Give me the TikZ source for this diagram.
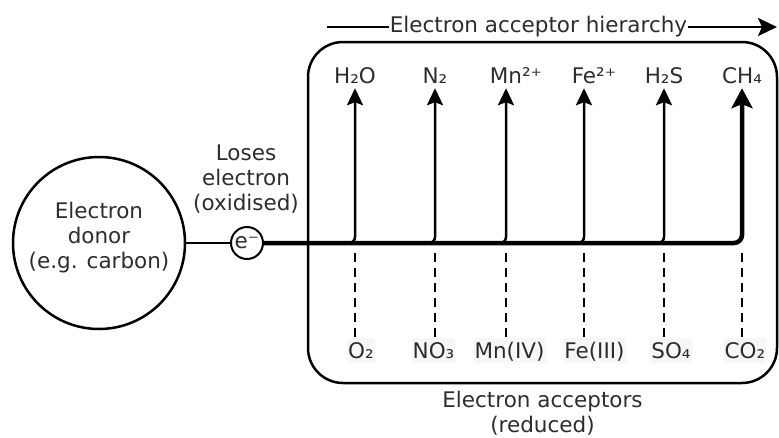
\documentclass[tikz,border=0pt]{standalone}
\usepackage{fontspec}
\setmainfont{DejaVu Sans}
\usetikzlibrary{arrows.meta,positioning}
\definecolor{txtgray}{RGB}{45,45,45}
\definecolor{labelbg}{RGB}{246,247,249}

\tikzset{
	every node/.style={text=txtgray, font=\fontsize{21.5}{25}\selectfont},
	prod/.style={anchor=base, inner xsep=0pt, inner ysep=5pt, text depth=0pt},
	reac/.style={anchor=base, fill=labelbg, inner xsep=1pt, inner ysep=5pt, text height=15.5pt, text depth=0pt},
	branch/.style={line width=2.5pt, rounded corners=6pt, -{Stealth[length=17pt,width=16pt,inset=3pt]}},
	mainline/.style={line width=4.5pt, rounded corners=8pt, -{Stealth[length=20pt,width=21pt,inset=4pt]}},
	link/.style={line width=2.5pt, dash pattern=on 9pt off 6pt}
}

\begin{document}
\begin{tikzpicture}[x=1pt,y=-1pt]
		\useasboundingbox (0,0) rectangle (779,437);
		
		% donor side
		\node[circle, draw=black, line width=2.5pt, minimum size=172pt, inner sep=0pt] (donor) at (99,243) {};
		\node[align=center] (donortxt) at (99,238) {Electron\\donor\\(e.g. carbon)};
		\node[circle, draw=black, line width=2pt, minimum size=32pt, inner sep=0pt] (elec) at (247,243) {e⁻};
		\node[align=center] (loses) at (246,179) {Loses\\electron\\(oxidised)};
		
		% acceptor box
		\node[draw=black, line width=2.5pt, rounded corners=35pt, minimum width=469pt, minimum height=341pt] (box) at (542.5,212.5) {};
		\node[align=center, below=3pt of box] (accept) {Electron acceptors\\(reduced)};
		
		% hierarchy arrow
		\coordinate (hstart) at (327,27);
		\coordinate (hend) at (777,27);
		\draw[line width=2.5pt, -{Stealth[length=19pt,width=18pt,inset=4pt]}] (hstart) -- (hend);
		\node[fill=white, inner xsep=1pt, inner ysep=0pt] (hier) at (538.5,27) {Electron acceptor hierarchy};
		
		% reduced products
		\node[prod] (h2o) at (355,83) {H₂O};
		\node[prod] (n2) at (435,83) {N₂};
		\node[prod] (mn) at (506,83) {Mn\rlap{²⁺}};
		\node[prod] (fe) at (584,83) {Fe\rlap{²⁺}};
		\node[prod] (h2s) at (664,83) {H₂S};
		\node[prod] (ch4) at (742,83) {CH₄};
		
		% acceptors
		\node[reac] (o2) at (361,358) {O₂};
		\node[reac] (no3) at (433.5,358) {NO₃};
		\node[reac] (mniv) at (509.5,358) {Mn(IV)};
		\node[reac] (feiii) at (594.5,358) {Fe(III)};
		\node[reac] (so4) at (671,358) {SO₄};
		\node[reac] (co2) at (745,358) {CO₂};
		\coordinate (gap) at (0,253);
		
		
		\draw[line width=2.5pt] (donor) -- (elec);
		\draw[mainline] (elec) -| (ch4.south);
		\draw[branch] ([xshift=-10pt]h2o.south |- elec) -| (h2o.south);
		\draw[branch] ([xshift=-10pt]n2.south |- elec) -| (n2.south);
		\draw[branch] ([xshift=-10pt]mn.south |- elec) -| (mn.south);
		\draw[branch] ([xshift=-10pt]fe.south |- elec) -| (fe.south);
		\draw[branch] ([xshift=-10pt]h2s.south |- elec) -| (h2s.south);
		
		
		\draw[link] (h2o.south |- gap) -- (h2o.south |- o2.north);
		\draw[link] (n2.south |- gap) -- (n2.south |- no3.north);
		\draw[link] (mn.south |- gap) -- (mn.south |- mniv.north);
		\draw[link] (fe.south |- gap) -- (fe.south |- feiii.north);
		\draw[link] (h2s.south |- gap) -- (h2s.south |- so4.north);
		\draw[link] (ch4.south |- gap) -- (ch4.south |- co2.north);
	\end{tikzpicture}
\end{document}
